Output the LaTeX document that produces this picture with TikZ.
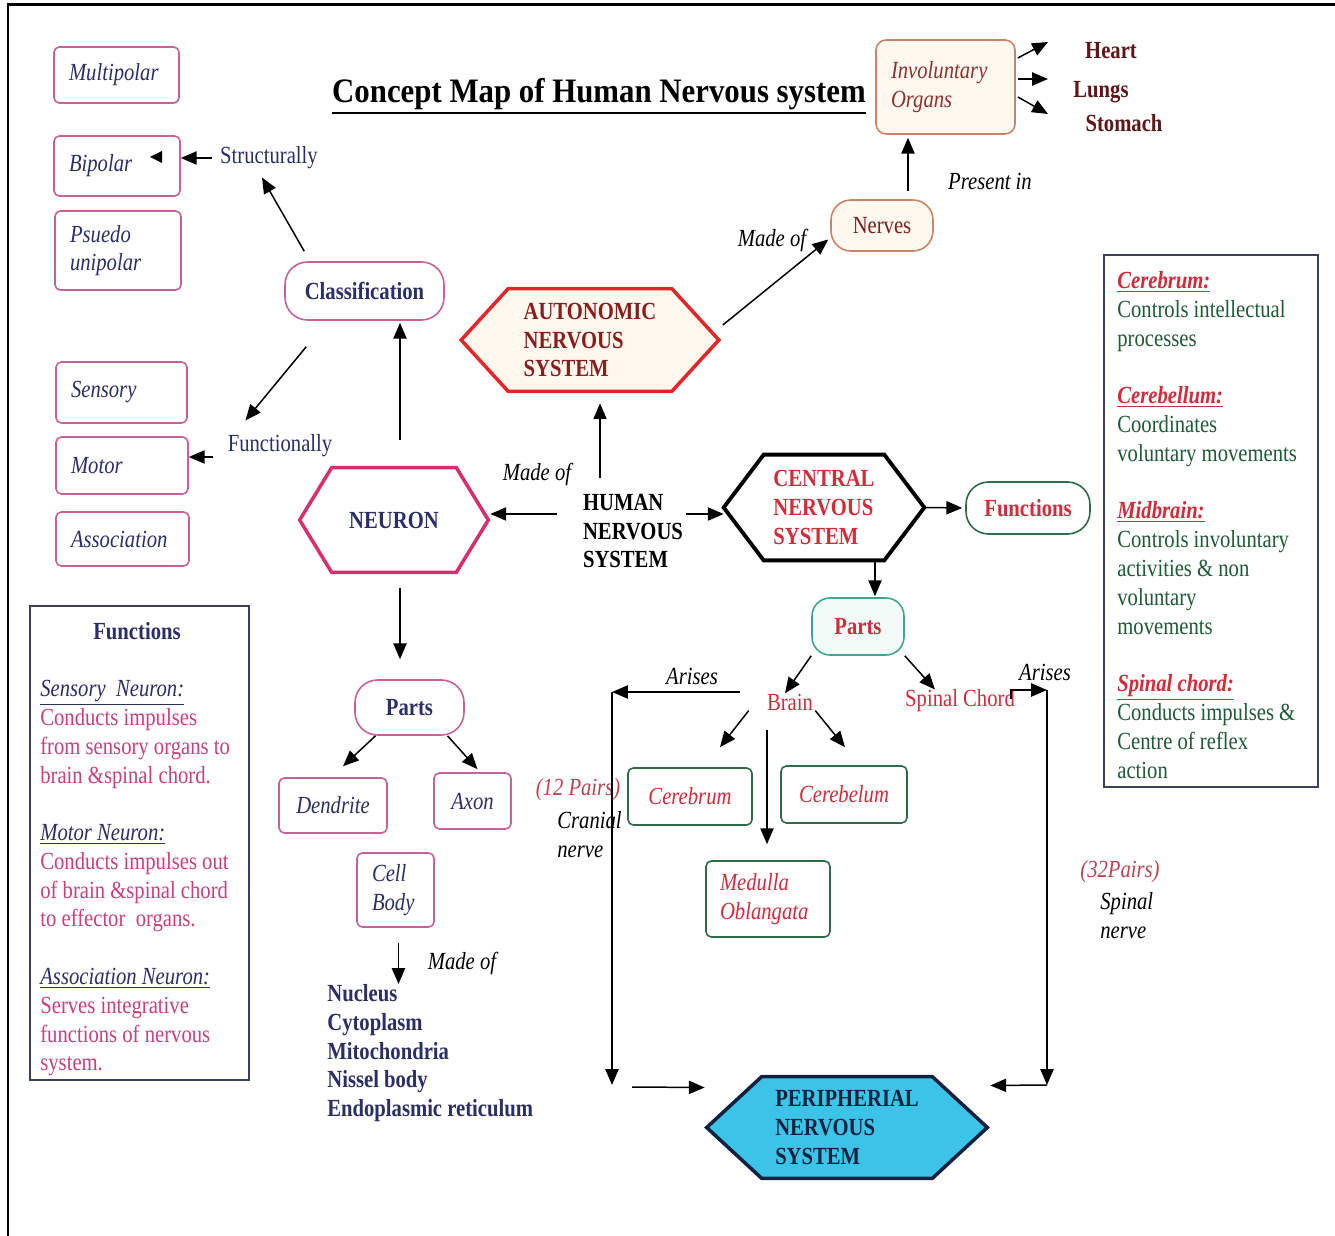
\documentclass[tikz,border=0pt]{standalone}
\usepackage{fontspec}
\setmainfont{Liberation Serif}[FakeStretch=0.84]
\newfontfamily\titlefont{Liberation Serif}[FakeStretch=0.9]
\usetikzlibrary{arrows.meta,calc,backgrounds}
\definecolor{navy}{HTML}{2A2F66}
\definecolor{pinkb}{HTML}{C8609A}
\definecolor{neuronc}{HTML}{D62E6E}
\definecolor{ansred}{HTML}{E3262A}
\definecolor{anstext}{HTML}{8A1C1C}
\definecolor{darkmar}{HTML}{5E1616}
\definecolor{nervet}{HTML}{7B1E1E}
\definecolor{organt}{HTML}{8E3030}
\definecolor{peach}{HTML}{C98466}
\definecolor{cream}{HTML}{FFF8EE}
\definecolor{redt}{HTML}{D42B3A}
\definecolor{gborder}{HTML}{2F6B47}
\definecolor{tealb}{HTML}{3FA592}
\definecolor{tealfill}{HTML}{F2FBF8}
\definecolor{cyanfill}{HTML}{3CC4E8}
\definecolor{pnsborder}{HTML}{10223F}
\definecolor{gtext}{HTML}{1F5A36}
\definecolor{pinkt}{HTML}{C8407E}
\definecolor{boxline}{HTML}{3A3F5E}
\definecolor{pairt}{HTML}{C04050}
\newcommand\myrhead[1]{{\color{redt}\bfseries\itshape\underline{#1}}}
\newcommand\mylhead[1]{{\color{navy}\itshape\underline{#1}}}
\tikzset{
  arr/.style={line width=0.85pt, -{Triangle[length=9pt,width=7.5pt]}},
  lbox/.style={draw=pinkb, line width=0.9pt, rounded corners=3pt, inner xsep=0.3cm, inner ysep=0pt, align=left, font=\itshape, text=navy},
  nbox/.style={draw=pinkb, line width=0.9pt, rounded corners=3pt, inner sep=0pt, font=\itshape, text=navy},
  pill/.style={draw=pinkb, line width=0.9pt, rounded corners=0.45cm, font=\bfseries, text=navy, inner sep=0pt},
  hexn/.style={inner sep=0pt, align=left, font=\bfseries},
  gbox/.style={draw=gborder, line width=0.9pt, rounded corners=3pt, font=\itshape, text=redt, inner sep=0pt},
  lab/.style={font=\itshape, text=black, inner sep=0pt},
  organ/.style={font=\bfseries, text=darkmar, inner sep=0pt},
  every node/.append style={inner sep=0pt}
}
\begin{document}
\begin{tikzpicture}[x=0.02cm,y=-0.02cm]
\fontsize{14}{16.4}\selectfont
\path[use as bounding box] (0,0) rectangle (1335,1236);
\begin{pgfonlayer}{background}
\fill[white] (0,0) rectangle (1335,1236);
\end{pgfonlayer}
\draw[line width=1.7pt] (8,1236) -- (8,5) -- (1335,5);

% title
\node[font=\titlefont\fontsize{19.5}{21}\selectfont\bfseries] (title) at (599,94) {Concept Map of Human Nervous system};
\draw[line width=1.2pt] ([yshift=-0.06cm]title.south west) -- ([yshift=-0.06cm]title.south east);

% left classification boxes
\node[lbox, text width=1.9cm, minimum height=1.12cm] (multi) at (116.5,75) {Multipolar};
\node[lbox, text width=1.92cm, minimum height=1.2cm] (bip) at (117,166) {Bipolar};
\node[lbox, text width=1.92cm, minimum height=1.58cm] (pseudo) at (118,250.5) {Psuedo\\unipolar};
\node[lbox, text width=2.02cm, minimum height=1.22cm] (sens) at (121.5,392.5) {Sensory};
\node[lbox, text width=2.04cm, minimum height=1.14cm] (motor) at (122,465.5) {Motor};
\node[lbox, text width=2.06cm, minimum height=1.08cm] (assoc) at (122.5,539) {Association};
\node[text=navy] (struct) at (269,158) {Structurally};
\node[text=navy] (func) at (280,446) {Functionally};
\node[pill, minimum width=3.18cm, minimum height=1.16cm] (class) at (364.5,291) {Classification};

% neuron branch
\node[hexn, text=navy, minimum width=3.76cm, minimum height=2.08cm] (neuron) at (394,520) {NEURON};
\node[pill, minimum width=2.18cm, minimum height=1.1cm] (nparts) at (409.5,707.5) {Parts};
\node[nbox, minimum width=2.16cm, minimum height=1.1cm] (dend) at (333,805.5) {Dendrite};
\node[nbox, minimum width=1.54cm, minimum height=1.12cm] (axon) at (472.5,801) {Axon};
\node[nbox, align=left, text width=0.94cm, inner xsep=0.3cm, minimum height=1.48cm] (cell) at (395.5,890) {Cell\\Body};
\node[anchor=north west, align=left, font=\bfseries, text=navy] (list) at (327,984) {Nucleus\\Cytoplasm\\Mitochondria\\Nissel body\\Endoplasmic reticulum};
\node[lab] (madeof3) at (462,963) {Made of};

% centre
\node[font=\bfseries, align=left] (hns) at (633,531) {HUMAN\\NERVOUS\\SYSTEM};
\node[lab] (madeof1) at (537,474) {Made of};
\node[hexn, text=anstext, minimum width=5.14cm, minimum height=2.04cm] (ans) at (590,340) {AUTONOMIC\\NERVOUS\\SYSTEM};
\node[lab] (madeof2) at (772,240) {Made of};
\node[draw=peach, fill=cream, line width=0.9pt, rounded corners=0.4cm, minimum width=2.04cm, minimum height=1.02cm, text=nervet] (nerves) at (882,225.5) {Nerves};
\node[lab] (presentin) at (990,181) {Present in};
\node[draw=peach, fill=cream, line width=0.9pt, rounded corners=0.2cm, align=left, text width=2.18cm, inner xsep=0.3cm, minimum height=1.88cm, font=\itshape, text=organt] (invol) at (945.5,87) {Involuntary\\Organs};
\node[organ] (heart) at (1111,51) {Heart};
\node[organ] (lungs) at (1101,92) {Lungs};
\node[organ] (stomach) at (1124,123) {Stomach};
\coordinate (oh) at (1048,42);
\coordinate (ol) at (1048,79);
\coordinate (os) at (1048,114);

% CNS
\node[hexn, text=redt, minimum width=4cm, minimum height=2.1cm] (cns) at (824,507.5) {CENTRAL\\NERVOUS\\SYSTEM};
\node[draw=gborder, line width=0.9pt, rounded corners=0.45cm, minimum width=2.48cm, minimum height=1.04cm, font=\bfseries, text=redt] (func2) at (1028,508) {Functions};
\node[draw=tealb, fill=tealfill, line width=0.9pt, rounded corners=0.36cm, minimum width=1.84cm, minimum height=1.14cm, font=\bfseries, text=redt] (cparts) at (858,626.5) {Parts};
\node[text=redt] (brain) at (790,702) {Brain};
\node[text=redt] (spinal) at (960,701) {Spinal Chord};
\node[gbox, minimum width=2.48cm, minimum height=1.14cm] (cereb) at (690,796.5) {Cerebrum};
\node[gbox, minimum width=2.52cm, minimum height=1.14cm] (cerebel) at (844,794.5) {Cerebelum};
\node[gbox, align=left, text width=1.92cm, inner xsep=0.28cm, minimum height=1.52cm] (medulla) at (768,899) {Medulla\\Oblangata};
\node[lab] (arises1) at (692,676) {Arises};
\node[lab] (arises2) at (1045,672) {Arises};
\node[lab, text=pairt] (p12) at (578,790) {(12 Pairs)};
\node[lab, anchor=north west, align=left] (cranial) at (557,811) {Cranial\\nerve};
\node[lab, text=pairt] (p32) at (1120,872) {(32Pairs)};
\node[lab, anchor=north west, align=left] (spn) at (1100,892) {Spinal\\nerve};
\node[hexn, text=pnsborder, minimum width=5.6cm, minimum height=2.02cm] (pns) at (847,1127.5) {PERIPHERIAL\\NERVOUS\\SYSTEM};
\coordinate (cnL) at (612,692);
\coordinate (cnB) at (612,1085);
\coordinate (snT) at (1047,690);
\coordinate (snB) at (1047,1085);

% right box
\node[draw=boxline, line width=1pt, minimum width=4.28cm, minimum height=10.64cm] (rbox) at (1211,521) {};
\node[anchor=north west, align=left, text=gtext] (rtext) at (1117,271) {\myrhead{Cerebrum:}\\Controls intellectual\\processes\\[16.4pt]
\myrhead{Cerebellum:}\\Coordinates\\voluntary movements\\[16.4pt]
\myrhead{Midbrain:}\\Controls involuntary\\activities \& non\\voluntary\\movements\\[16.4pt]
\myrhead{Spinal chord:}\\Conducts impulses \&\\Centre of reflex\\action};

% left box
\node[draw=boxline, line width=1pt, minimum width=4.38cm, minimum height=9.48cm] (lfbox) at (139.5,843) {};
\node[font=\bfseries, text=navy] (lfunc) at (137,631) {Functions};
\node[anchor=north west, align=left, text=pinkt] (ltext) at (40,680) {\mylhead{Sensory\ \ Neuron:}\\Conducts impulses\\from sensory organs to\\brain \&spinal chord.\\[16.3pt]
\mylhead{Motor Neuron:}\\Conducts impulses out\\of brain \&spinal chord\\to effector\ \ organs.\\[16.3pt]
\mylhead{Association Neuron:}\\Serves integrative\\functions of nervous\\system.};

% hexagon outlines
\begin{pgfonlayer}{background}
\draw[draw=neuronc, line width=2pt, fill=white] (neuron.west) -- ([xshift=0.64cm]neuron.north west) -- ([xshift=-0.64cm]neuron.north east) -- (neuron.east) -- ([xshift=-0.64cm]neuron.south east) -- ([xshift=0.64cm]neuron.south west) -- cycle;
\draw[draw=ansred, line width=2pt, fill=cream] (ans.west) -- ([xshift=0.94cm]ans.north west) -- ([xshift=-0.94cm]ans.north east) -- (ans.east) -- ([xshift=-0.94cm]ans.south east) -- ([xshift=0.94cm]ans.south west) -- cycle;
\draw[draw=black, line width=2.2pt, fill=white] (cns.west) -- ([xshift=0.8cm]cns.north west) -- ([xshift=-0.8cm]cns.north east) -- (cns.east) -- ([xshift=-0.8cm]cns.south east) -- ([xshift=0.8cm]cns.south west) -- cycle;
\draw[draw=pnsborder, line width=2pt, fill=cyanfill] (pns.west) -- ([xshift=1.1cm]pns.north west) -- ([xshift=-1.1cm]pns.north east) -- (pns.east) -- ([xshift=-1.1cm]pns.south east) -- ([xshift=1.1cm]pns.south west) -- cycle;
\end{pgfonlayer}

% connectors
\draw[arr, shorten <=0.16cm] (struct.west) -- (struct.west -| bip.east);
\fill ([shift={(33,-9)}]bip.center) -- ++(12,-6) -- ++(0,12) -- cycle;
\draw[arr] ([shift={(20,-10)}]class.north west) -- ([shift={(-7,8)}]struct.south);
\draw[arr] ([shift={(22,26)}]class.south west) -- ([shift={(18,-14)}]func.north west);
\draw[arr, shorten <=0.28cm] ([yshift=-0.22cm]func.west) -- ([yshift=-0.22cm]func.west -| motor.east);
\draw[arr, shorten <=0.56cm, shorten >=0.04cm] ([xshift=0.12cm]neuron.north) -- ([xshift=0.12cm]neuron.north |- class.south);
\draw[arr, shorten <=0.32cm, shorten >=0.4cm] ([xshift=0.12cm]neuron.south) -- ([xshift=0.12cm]neuron.south |- nparts.north);
\draw[arr] ([xshift=-0.68cm]nparts.south) -- ([shift={(10,-11)}]dend.north);
\draw[arr] ([xshift=0.76cm]nparts.south) -- ([shift={(5,-3)}]axon.north);
\draw[arr, shorten <=0.3cm] ([xshift=0.06cm]cell.south) -- ([xshift=0.06cm]cell.south |- list.north);
\draw[arr, shorten <=0.52cm, shorten >=0.04cm] ([yshift=0.34cm]hns.west) -- ([yshift=0.34cm]hns.west -| neuron.east);
\draw[arr, shorten <=0.32cm, shorten >=0.24cm] ([xshift=-0.66cm]hns.north) -- ([xshift=-0.66cm]hns.north |- ans.south);
\draw[arr, shorten <=0.06cm] ([yshift=0.34cm]hns.east) -- ([yshift=0.34cm]hns.east -| cns.west);
\draw[arr] ([shift={(4,-15)}]ans.east) -- ([shift={(-2,14)}]nerves.west);
\draw[arr, shorten <=0.16cm, shorten >=0.06cm] ([xshift=0.52cm]nerves.north) -- ([xshift=0.52cm]nerves.north |- invol.south);
\draw[arr] ([shift={(2,-29)}]invol.east) -- (oh);
\draw[arr] ([shift={(2,-8)}]invol.east) -- (ol);
\draw[arr] ([shift={(2,10)}]invol.east) -- (os);
\draw[arr, shorten >=0.06cm] (cns.east) -- (func2.west);
\draw[arr, shorten >=0.02cm] ([xshift=0.34cm]cparts.north |- cns.south) -- ([xshift=0.34cm]cparts.north);
\draw[arr] (cparts.south west) -- ([xshift=-0.1cm]brain.north);
\draw[arr] (cparts.south east) -- ([xshift=-0.5cm]spinal.north);
\draw[arr] ([xshift=-0.36cm]brain.south west) -- ([shift={(30,-20)}]cereb.north);
\draw[arr] ([xshift=0.04cm]brain.south east) -- ([shift={(1,-18)}]cerebel.north);
\draw[arr, shorten <=0.38cm, shorten >=0.32cm] ([xshift=-0.46cm]brain.south) -- ([xshift=-0.46cm]brain.south |- medulla.north);
\draw[arr] ([shift={(-27,-10)}]brain.west) -- (cnL);
\draw[arr] (cnL) -- (cnB);
\draw[arr] ([shift={(20,2)}]cnB) -- ([shift={(-2,-40)}]pns.west);
\draw[arr] ([shift={(-4,-2)}]spinal.east) |- (snT);
\draw[arr] (snT) -- (snB);
\draw[arr] (snB) -- ([shift={(3,-42)}]pns.east);
\end{tikzpicture}
\end{document}
